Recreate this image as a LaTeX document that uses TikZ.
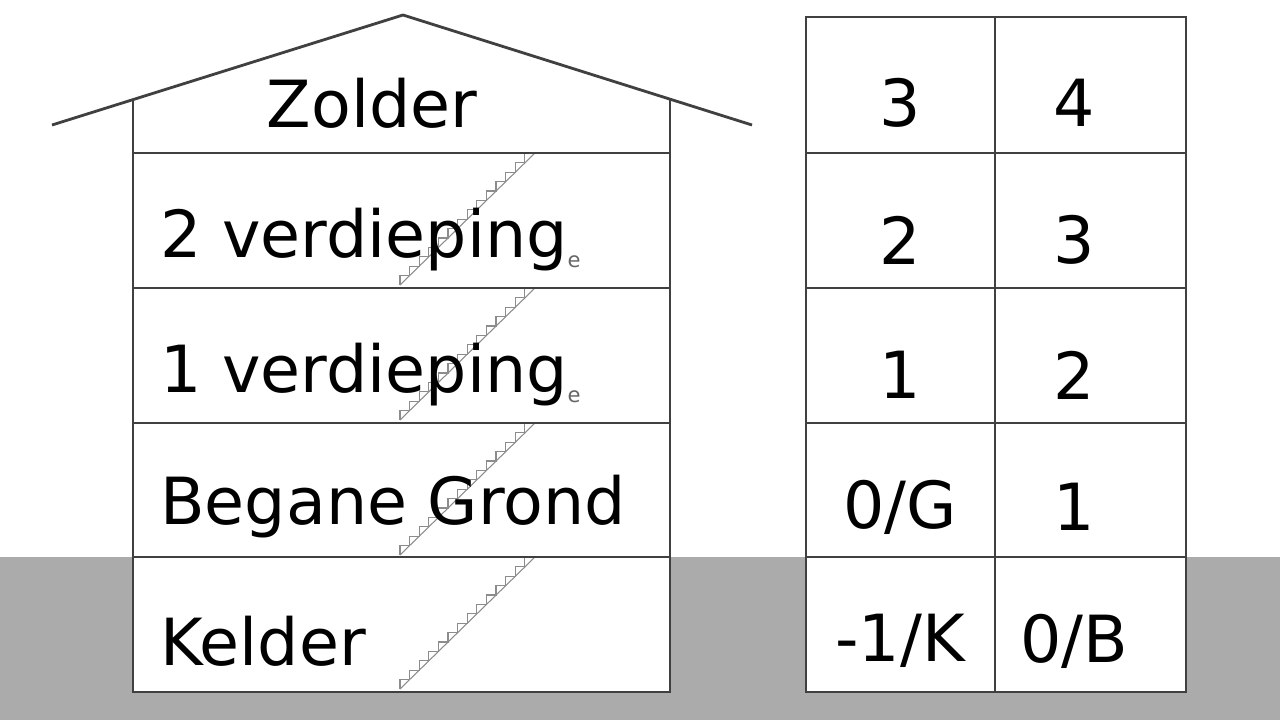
\documentclass[tikz,border=0pt]{standalone}
\usepackage{fontspec}
\setmainfont{DejaVu Sans}
\begin{document}
\begin{tikzpicture}[x=0.02cm,y=-0.02cm,
  wall/.style={draw=black!75,line width=1.6pt},
  lbl/.style={font=\fontsize{37}{44}\selectfont,inner sep=0pt},
  stair/.style={draw=black!45,line width=0.6pt}]
\useasboundingbox (0,0) rectangle (1280,720);
\fill[black!33] (0,557) rectangle (1280,720);
\fill[white] (133,100) rectangle (670,692);
\fill[white] (806,17) rectangle (1186,692);
% stairs
\foreach \t in {153,288,423,557}{
  \draw[stair] (400,\t+132) -- (535,\t);
  \draw[stair] (400,\t+132) \foreach \i in {1,...,14}{ -- ++(0,-9.4) -- ++(9.6,0)};
}
% house
\draw[wall] (52,125) -- (403,15) -- (752,125);
\draw[wall] (133,100) -- (133,692) -- (670,692) -- (670,100);
\foreach \y in {153,288,423,557} \draw[wall] (133,\y) -- (670,\y);
% table
\draw[wall] (806,17) rectangle (1186,692);
\draw[wall] (995,17) -- (995,692);
\foreach \y in {153,288,423,557} \draw[wall] (806,\y) -- (1186,\y);
\node[lbl] (z) at (372,103) {Zolder};
\node[lbl,anchor=west] (v2) at (160,240) {2 verdieping\raisebox{-0.15em}{\textcolor{black!60}{\fontsize{12}{12}\selectfont e}}};
\node[lbl,anchor=west] (v1) at (160,375) {1 verdieping\raisebox{-0.15em}{\textcolor{black!60}{\fontsize{12}{12}\selectfont e}}};
\node[lbl,anchor=west] (bg) at (160,507) {Begane Grond};
\node[lbl,anchor=west] (k) at (160,641) {Kelder};
\foreach \a/\b/\y in {3/4/103,2/3/240,1/2/375,0\slash G/1/507,-1\slash K/0\slash B/641}{
  \node[lbl] at (900,\y) {\a};
  \node[lbl] at (1074,\y) {\b};
}
\end{tikzpicture}
\end{document}
